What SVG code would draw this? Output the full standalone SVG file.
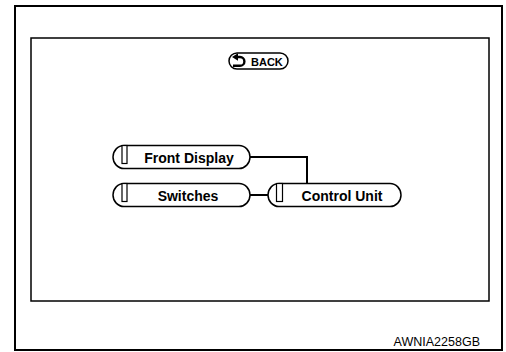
<svg xmlns="http://www.w3.org/2000/svg" width="506" height="352" viewBox="0 0 506 352">
<style>
.pill{fill:#fff;stroke:#000;stroke-width:1.5}
.tab{fill:#fff;stroke:#000;stroke-width:1.2}
.lbl{font-family:"Liberation Sans",Arial,sans-serif;font-weight:bold;font-size:14px;fill:#000;text-anchor:middle}
.conn{fill:none;stroke:#000;stroke-width:2}
</style>
<rect x="0" y="0" width="506" height="352" fill="#fff"/>
<rect x="15" y="6" width="487" height="344" fill="none" stroke="#000" stroke-width="2"/>
<rect x="31" y="38" width="458" height="263" fill="none" stroke="#000" stroke-width="1.5"/>
<g id="back">
<rect x="229" y="53" width="59" height="16" rx="8" ry="8" class="pill"/>
<polygon points="232,57 238,53.3 238,60.7" fill="#000"/>
<path d="M237,57 L240,57 A4.4,4.4 0 0 1 240,65.8 L233,65.8" fill="none" stroke="#000" stroke-width="2.4"/>
<text x="251" y="65.5" font-family="'Liberation Sans',Arial,sans-serif" font-weight="bold" font-size="11" fill="#000">BACK</text>
</g>
<g id="connectors">
<path class="conn" d="M250,157 H307 V184"/>
<path class="conn" d="M250,195 H268"/>
</g>
<g id="front-display">
<rect x="113" y="145.5" width="137" height="23" rx="11" ry="11.5" class="pill"/>
<rect x="122" y="145.5" width="5" height="18" class="tab"/>
<text x="189" y="162.5" class="lbl">Front Display</text>
</g>
<g id="switches">
<rect x="113" y="183.5" width="137" height="23" rx="11" ry="11.5" class="pill"/>
<rect x="122" y="183.5" width="5" height="18" class="tab"/>
<text x="188" y="200.5" class="lbl">Switches</text>
</g>
<g id="control-unit">
<rect x="268" y="183.5" width="133" height="23" rx="11" ry="11.5" class="pill"/>
<rect x="276.5" y="183.5" width="6" height="18" class="tab"/>
<text x="342" y="200.5" class="lbl">Control Unit</text>
</g>
<text x="480" y="346" font-family="'Liberation Sans',Arial,sans-serif" font-size="12.5" fill="#000" text-anchor="end">AWNIA2258GB</text>
</svg>
